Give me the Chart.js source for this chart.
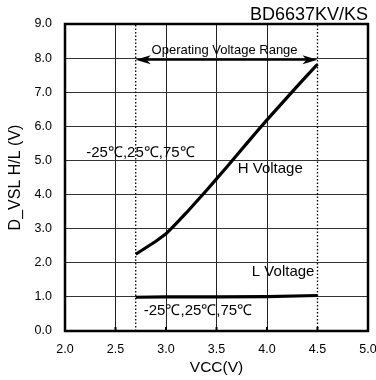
<!DOCTYPE html>
<html>
<head>
<meta charset="utf-8">
<script src="https://cdn.jsdelivr.net/npm/chart.js@4.4.1/dist/chart.umd.min.js"></script>
<style>
  html, body { margin: 0; padding: 0; background: #fff; }
  #wrap { width: 376px; height: 380px; }
</style>
</head>
<body>
<div id="wrap"><canvas id="c" width="376" height="380"></canvas></div>
<script>
// D_VSL threshold vs. supply voltage (BD6637KV/KS)
const vccH = [2.7, 2.8, 2.9, 3.0, 3.1, 3.2, 3.3, 3.4, 3.5, 3.6, 3.7, 3.8, 3.9, 4.0, 4.1, 4.2, 4.3, 4.4, 4.5];
const vH   = [2.25, 2.44, 2.63, 2.85, 3.15, 3.46, 3.79, 4.12, 4.46, 4.8, 5.15, 5.5, 5.85, 6.19, 6.52, 6.85, 7.18, 7.5, 7.82];
const vccL = [2.7, 3.0, 3.5, 4.0, 4.5];
const vL   = [0.99, 1.0, 1.0, 1.01, 1.04];

// operating voltage range (V)
const rangeLo = 2.7;
const rangeHi = 4.5;
const rangeArrowLevel = 7.95;

const xTicks = [2.0, 2.5, 3.0, 3.5, 4.0, 4.5, 5.0];
const yTicks = [0, 1, 2, 3, 4, 5, 6, 7, 8, 9];

const FONT = '"Liberation Sans", Arial, Helvetica, sans-serif';

// text notes placed in data coordinates
const notes = [
  { text: 'Operating Voltage Range', x: 3.58, y: 8.24, align: 'center', size: 13 },
  { text: '-25\u2103,25\u2103,75\u2103', x: 2.21, y: 5.22, align: 'left', size: 15 },
  { text: 'H Voltage', x: 3.71, y: 4.76, align: 'left', size: 15 },
  { text: 'L Voltage', x: 3.85, y: 1.73, align: 'left', size: 15 },
  { text: '-25\u2103,25\u2103,75\u2103', x: 2.78, y: 0.59, align: 'left', size: 15 }
];

const toXY = (xs, ys) => xs.map((x, i) => ({ x: x, y: ys[i] }));

const framePlugin = {
  id: 'frame',
  afterDatasetsDraw(chart) {
    const { ctx, chartArea: a, scales } = chart;
    ctx.save();
    // small bottom tick marks
    ctx.strokeStyle = '#000';
    ctx.lineWidth = 2;
    xTicks.forEach(v => {
      const px = scales.x.getPixelForValue(v);
      ctx.beginPath();
      ctx.moveTo(px, a.bottom);
      ctx.lineTo(px, a.bottom - 4);
      ctx.stroke();
    });
    // plot frame
    ctx.lineWidth = 2.5;
    ctx.strokeRect(a.left, a.top, a.right - a.left, a.bottom - a.top);
    ctx.restore();
  }
};

const arrowPlugin = {
  id: 'rangeArrow',
  afterDatasetsDraw(chart) {
    const { ctx, scales } = chart;
    const x1 = scales.x.getPixelForValue(rangeLo);
    const x2 = scales.x.getPixelForValue(rangeHi);
    const y = scales.y.getPixelForValue(rangeArrowLevel);
    const hl = 15, hw = 4.5;
    ctx.save();
    ctx.strokeStyle = '#000';
    ctx.fillStyle = '#000';
    ctx.lineWidth = 2;
    ctx.beginPath();
    ctx.moveTo(x1 + 6, y);
    ctx.lineTo(x2 - 6, y);
    ctx.stroke();
    ctx.beginPath();
    ctx.moveTo(x1, y);
    ctx.lineTo(x1 + hl, y - hw);
    ctx.lineTo(x1 + hl - 4, y);
    ctx.lineTo(x1 + hl, y + hw);
    ctx.closePath();
    ctx.fill();
    ctx.beginPath();
    ctx.moveTo(x2, y);
    ctx.lineTo(x2 - hl, y - hw);
    ctx.lineTo(x2 - hl + 4, y);
    ctx.lineTo(x2 - hl, y + hw);
    ctx.closePath();
    ctx.fill();
    ctx.restore();
  }
};

const notesPlugin = {
  id: 'notes',
  afterDatasetsDraw(chart) {
    const { ctx, scales } = chart;
    ctx.save();
    ctx.fillStyle = '#000';
    ctx.textBaseline = 'middle';
    notes.forEach(n => {
      ctx.font = n.size + 'px ' + FONT;
      ctx.textAlign = n.align;
      ctx.fillText(n.text, scales.x.getPixelForValue(n.x), scales.y.getPixelForValue(n.y));
    });
    ctx.restore();
  }
};

new Chart(document.getElementById('c'), {
  type: 'line',
  data: {
    datasets: [
      {
        label: 'H Voltage',
        data: toXY(vccH, vH),
        borderColor: '#000',
        borderWidth: 3.2,
        pointRadius: 0,
        tension: 0
      },
      {
        label: 'L Voltage',
        data: toXY(vccL, vL),
        borderColor: '#000',
        borderWidth: 3.2,
        pointRadius: 0,
        tension: 0
      },
      {
        label: 'range low',
        data: toXY([rangeLo, rangeLo], [0, 9]),
        borderColor: '#000',
        borderWidth: 1.3,
        borderDash: [1.5, 2],
        pointRadius: 0
      },
      {
        label: 'range high',
        data: toXY([rangeHi, rangeHi], [0, 9]),
        borderColor: '#000',
        borderWidth: 1.3,
        borderDash: [1.5, 2],
        pointRadius: 0
      }
    ]
  },
  options: {
    responsive: false,
    animation: false,
    layout: { padding: { left: 0, right: 8, top: 0, bottom: 0 } },
    plugins: {
      legend: { display: false },
      tooltip: { enabled: false },
      title: {
        display: true,
        text: 'BD6637KV/KS',
        align: 'end',
        color: '#000',
        font: { family: FONT, size: 18, weight: 'normal', lineHeight: 1 },
        padding: { top: 6, bottom: 0 }
      }
    },
    scales: {
      x: {
        type: 'linear',
        min: 2,
        max: 5,
        afterBuildTicks(s) { s.ticks = xTicks.map(v => ({ value: v })); },
        afterFit(s) { s.height = 49; s.paddingLeft = 0; s.paddingRight = 0; },
        ticks: {
          color: '#000',
          padding: 11,
          maxRotation: 0,
          font: { family: FONT, size: 12.5 },
          callback: v => Number(v).toFixed(1)
        },
        grid: {
          drawTicks: false,
          lineWidth: 1,
          color: c => (c.tick && Math.abs(c.tick.value - rangeHi) < 1e-9) ? 'rgba(0,0,0,0)' : '#222'
        },
        border: { display: false },
        title: {
          display: true,
          text: 'VCC(V)',
          color: '#000',
          font: { family: FONT, size: 15.5 },
          padding: { top: 0, bottom: 3 }
        }
      },
      y: {
        min: 0,
        max: 9,
        afterBuildTicks(s) { s.ticks = yTicks.map(v => ({ value: v })); },
        afterFit(s) { s.width = 65; s.paddingTop = 0; s.paddingBottom = 0; },
        ticks: {
          color: '#000',
          padding: 13,
          font: { family: FONT, size: 12.5 },
          callback: v => Number(v).toFixed(1)
        },
        grid: { drawTicks: false, lineWidth: 1, color: '#333' },
        border: { display: false },
        title: {
          display: true,
          text: 'D_VSL H/L (V)',
          color: '#000',
          font: { family: FONT, size: 16 },
          padding: { top: 6, bottom: 0 }
        }
      }
    }
  },
  plugins: [framePlugin, arrowPlugin, notesPlugin]
});
</script>
</body>
</html>
